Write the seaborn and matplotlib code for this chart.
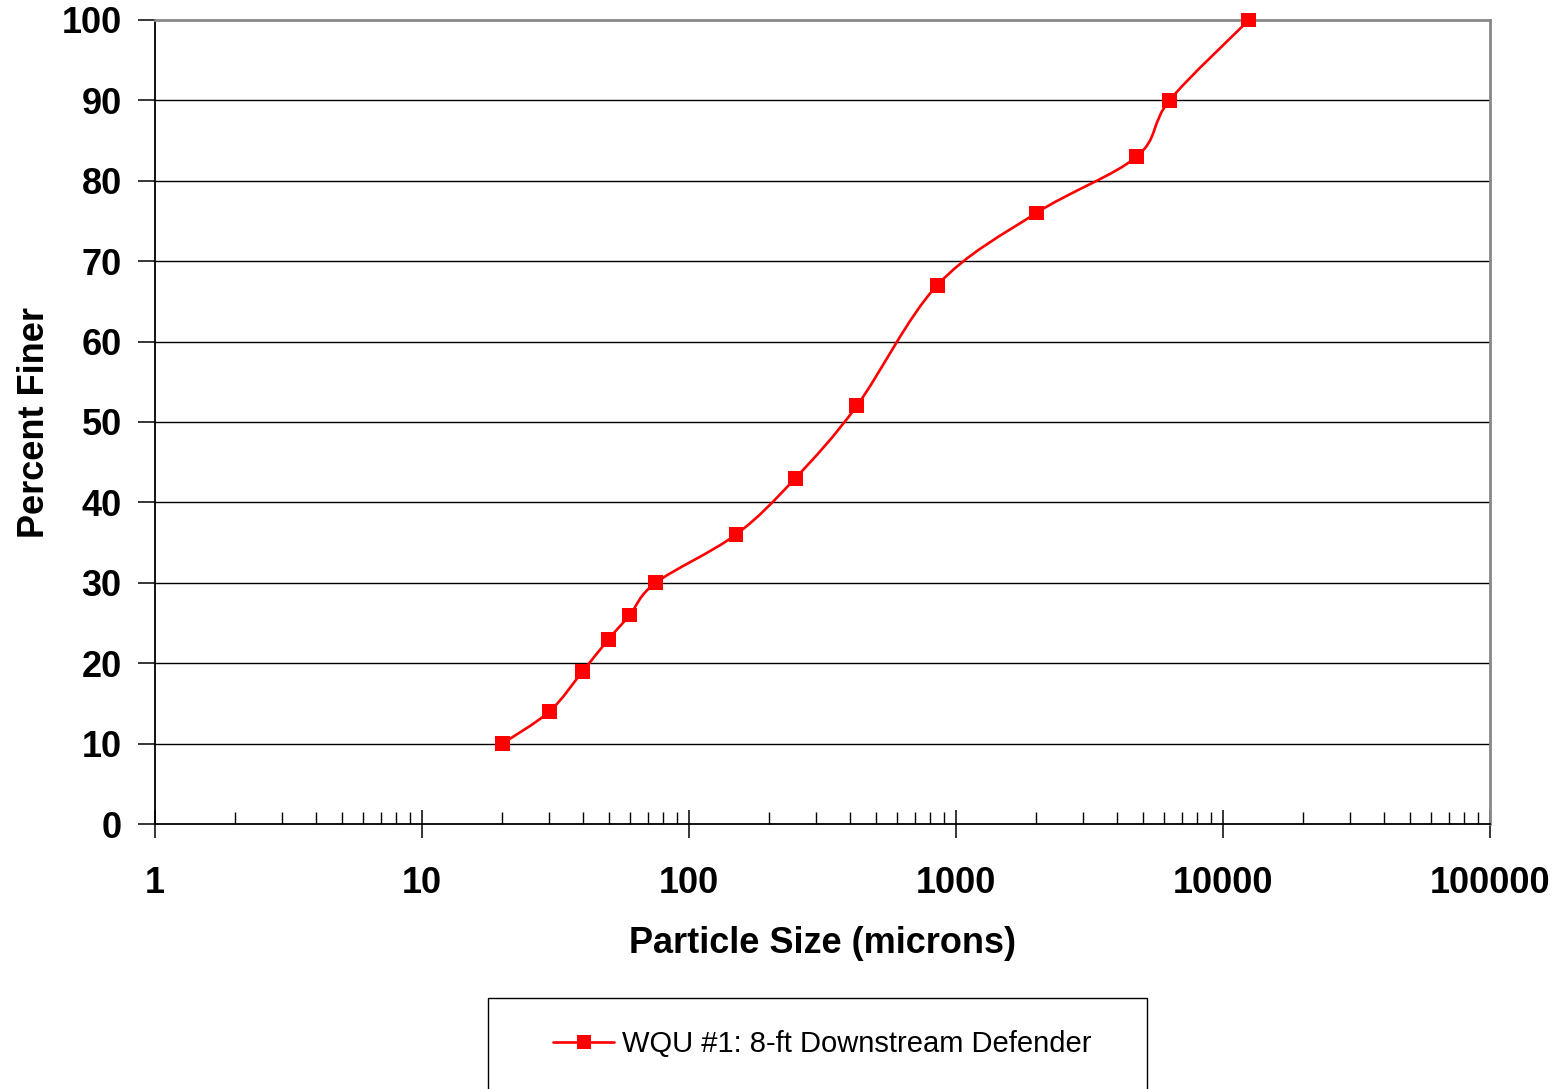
import numpy as np
import pandas as pd
import matplotlib
matplotlib.use("Agg")
import matplotlib.pyplot as plt
import seaborn as sns
from matplotlib.path import Path
from matplotlib.patches import PathPatch, Rectangle
from matplotlib.lines import Line2D
from matplotlib.ticker import LogLocator, FixedLocator, NullFormatter

# ---- data ----
particle_size = [20, 30, 40, 50, 60, 75, 150, 250, 425, 850, 2000, 4750, 6300, 12500]
percent_finer = [10, 14, 19, 23, 26, 30, 36, 43, 52, 67, 76, 83, 90, 100]
series_name = "WQU #1: 8-ft Downstream Defender"
x_ticks = [1, 10, 100, 1000, 10000, 100000]
x_tick_labels = ["1", "10", "100", "1000", "10000", "100000"]
y_ticks = [0, 10, 20, 30, 40, 50, 60, 70, 80, 90, 100]

df = pd.DataFrame({"size": particle_size, "finer": percent_finer})

sns.set_theme(style="white")
plt.rcParams["font.family"] = ["Liberation Sans", "DejaVu Sans"]
plt.rcParams["text.color"] = "black"
plt.rcParams["axes.labelcolor"] = "black"
plt.rcParams["xtick.color"] = "black"
plt.rcParams["ytick.color"] = "black"

fig = plt.figure(figsize=(15.6, 10.89), dpi=100)
ax = fig.add_axes([155 / 1560, 1 - 824 / 1089, (1490 - 155) / 1560, (824 - 20) / 1089])
ax.set_xscale("log")
ax.set_xlim(1, 100000)
ax.set_ylim(0, 100)

# grid lines
for yv in y_ticks[1:-1]:
    ax.axhline(yv, color="black", lw=1.0, zorder=1)

# smoothed line (Catmull-Rom style bezier in log-x space)
lx = np.log10(df["size"].to_numpy(float))
yy = df["finer"].to_numpy(float)
pts = np.column_stack([lx, yy])
n = len(pts)
verts = [pts[0]]
codes = [Path.MOVETO]
for i in range(n - 1):
    p0 = pts[i - 1] if i > 0 else pts[i]
    p1 = pts[i]
    p2 = pts[i + 1]
    p3 = pts[i + 2] if i + 2 < n else pts[i + 1]
    c1 = p1 + (p2 - p0) / 6.0
    c2 = p2 - (p3 - p1) / 6.0
    verts += [c1, c2, p2]
    codes += [Path.CURVE4] * 3
verts = np.array(verts)
verts[:, 0] = 10 ** verts[:, 0]
patch = PathPatch(Path(verts, codes), fill=False, edgecolor="#ff0000", lw=1.9,
                  transform=ax.transData, zorder=3, clip_on=False)
ax.add_patch(patch)

sns.scatterplot(data=df, x="size", y="finer", marker="s", s=115, color="#ff0000",
                edgecolor="none", linewidth=0, ax=ax, zorder=4, clip_on=False, legend=False)

# spines
for s in ["top", "right"]:
    ax.spines[s].set_color("#888888")
    ax.spines[s].set_linewidth(2.0)
for s in ["left", "bottom"]:
    ax.spines[s].set_color("black")
    ax.spines[s].set_linewidth(1.3)

# ticks
ax.xaxis.set_major_locator(FixedLocator(x_ticks))
ax.set_xticklabels(x_tick_labels)
ax.xaxis.set_minor_locator(LogLocator(base=10, subs=np.arange(2, 10)))
ax.xaxis.set_minor_formatter(NullFormatter())
ax.set_yticks(y_ticks)
ax.tick_params(axis="x", which="major", direction="inout", length=20, width=1.1,
               color="black", pad=20, labelsize=26, bottom=True, labelcolor="black")
ax.tick_params(axis="x", which="minor", direction="in", length=9, width=1.0,
               color="black", bottom=True)
ax.tick_params(axis="y", which="major", direction="out", length=12, width=1.1,
               color="black", pad=12, labelsize=26, left=True, labelcolor="black")
for lab in ax.get_xticklabels() + ax.get_yticklabels():
    lab.set_fontweight("bold")

ax.set_xlabel("Particle Size (microns)", fontsize=26, fontweight="bold", labelpad=18,
              color="black")
ax.set_ylabel("Percent Finer", fontsize=26, fontweight="bold", labelpad=7, color="black")
ax.set_facecolor("white")

# legend
fig.patches.append(Rectangle((488 / 1560, -0.05), (1147 - 488) / 1560, 0.05 + (1089 - 998) / 1089,
                             transform=fig.transFigure, fill=False, edgecolor="black", lw=1.0))
handle = Line2D([], [], color="#ff0000", lw=1.9, marker="s", markersize=10,
                markeredgewidth=0)
leg = fig.legend(handles=[handle], labels=[series_name], loc="center",
                 bbox_to_anchor=(822 / 1560, 1 - 1044 / 1089), frameon=False,
                 fontsize=21, handlelength=2.1, handletextpad=0.25)
for t in leg.get_texts():
    t.set_color("black")

fig.savefig("out.png", dpi=100, facecolor="white")
